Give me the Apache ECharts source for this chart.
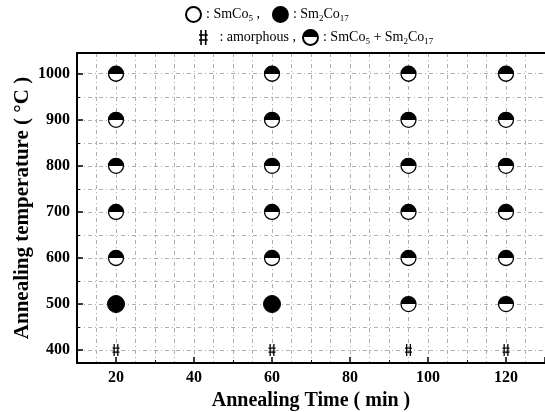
<!DOCTYPE html>
<html><head><meta charset="utf-8">
<script src="https://cdn.jsdelivr.net/npm/echarts@6/dist/echarts.min.js"></script>
<style>html,body{margin:0;padding:0;background:#fff}#c{width:545px;height:412px}</style>
</head><body><div id="c"></div>
<script>
// Data
const amorphousPts = [[20,400],[60,400],[95,400],[120,400]];
const sm2co17Pts = [[20,500],[60,500]];
const mixedPts = [
  [20,600],[20,700],[20,800],[20,900],[20,1000],
  [60,600],[60,700],[60,800],[60,900],[60,1000],
  [95,500],[95,600],[95,700],[95,800],[95,900],[95,1000],
  [120,500],[120,600],[120,700],[120,800],[120,900],[120,1000]
];
const smco5Pts = [];
const xTicks = [20,40,60,80,100,120];
const yTicks = [400,500,600,700,800,900,1000];

const serif = 'Liberation Serif, Times New Roman, serif';
const amorphPath = 'path://M1,0h1.3v12h-1.3z M4.7,0h1.3v12h-1.3z M0,3.4h7v1.2h-7z M0,7.4h7v1.2h-7z';
const halfFill = {type:'linear', x:0, y:0, x2:0, y2:1, colorStops:[
  {offset:0,color:'#000'},{offset:0.5,color:'#000'},{offset:0.5,color:'#fff'},{offset:1,color:'#fff'}]};
const grid = {type:[4,3,1,3], color:'#9a9a9a', width:0.8};
const legText = {fontFamily: serif, fontSize: 14, color:'#000',
  rich:{s:{fontFamily: serif, fontSize: 9, color:'#000', padding:[9,0,0,0]}}};

const chart = echarts.init(document.getElementById('c'));
chart.setOption({
  animation:false,
  backgroundColor:'#fff',
  grid:{left:77, right:0, top:53, bottom:49, outerBoundsMode:'none', containLabel:false},
  legend:[
    {left:185, top:6, padding:0, itemWidth:15, itemHeight:15, itemGap:12, data:['SmCo5','Sm2Co17'],
     formatter: n => n==='SmCo5' ? ': SmCo{s|5} ,' : ': Sm{s|2}Co{s|17}',
     textStyle: legText},
    {left:199, top:29, padding:0, itemWidth:15, itemHeight:15, itemGap:6, data:['amorphous','mixed'],
     formatter: n => n==='amorphous' ? ' : amorphous ,' : ': SmCo{s|5} + Sm{s|2}Co{s|17}',
     textStyle: legText}
  ],
  xAxis:[
    {type:'value', min:10, max:130, splitNumber:6, position:'bottom',
     name:'Annealing Time ( min )', nameLocation:'middle', nameGap:26,
     nameTextStyle:{fontFamily:serif, fontWeight:'bold', fontSize:20, color:'#000'},
     axisLine:{lineStyle:{color:'#000', width:2}},
     axisTick:{inside:true, length:6, lineStyle:{color:'#000', width:1.5}},
     minorTick:{show:true, splitNumber:2, length:3, lineStyle:{color:'#000', width:1}},
     axisLabel:{fontFamily:serif, fontWeight:'bold', fontSize:16, color:'#000', margin:7,
       formatter: v => xTicks.includes(v) ? String(v) : ''},
     splitLine:{show:false}},
    {type:'value', min:10, max:130, splitNumber:24, position:'top',
     axisLine:{show:true, lineStyle:{color:'#000', width:2}},
     axisTick:{show:false}, axisLabel:{show:false},
     splitLine:{show:true, lineStyle:grid}}
  ],
  yAxis:[
    {type:'value', min:372, max:1045, splitNumber:7, position:'left',
     name:'Annealing temperature ( °C )', nameLocation:'middle', nameGap:44, nameMoveOverlap:false,
     nameTextStyle:{fontFamily:serif, fontWeight:'bold', fontSize:21, color:'#000'},
     axisLine:{lineStyle:{color:'#000', width:2}},
     axisTick:{inside:true, length:6, lineStyle:{color:'#000', width:1.5}},
     minorTick:{show:true, splitNumber:2, length:3, lineStyle:{color:'#000', width:1}},
     axisLabel:{fontFamily:serif, fontWeight:'bold', fontSize:16, color:'#000', margin:7,
       formatter: v => yTicks.includes(v) ? String(v) : ''},
     splitLine:{show:false}},
    {type:'value', min:372, max:1045, splitNumber:14, position:'right',
     axisLine:{show:false}, axisTick:{show:false}, axisLabel:{show:false},
     splitLine:{show:true, lineStyle:grid}}
  ],
  series:[
    {name:'SmCo5', type:'scatter', data:smco5Pts, symbol:'circle', symbolSize:15,
     itemStyle:{color:'#fff', borderColor:'#000', borderWidth:1.3, opacity:1}},
    {name:'Sm2Co17', type:'scatter', data:sm2co17Pts, symbol:'circle', symbolSize:17,
     itemStyle:{color:'#000', borderColor:'#000', borderWidth:1, opacity:1}},
    {name:'amorphous', type:'scatter', data:amorphousPts, symbol:amorphPath, symbolSize:[7,12],
     itemStyle:{color:'#000', opacity:1}},
    {name:'mixed', type:'scatter', data:mixedPts, symbol:'circle', symbolSize:15,
     itemStyle:{color:halfFill, borderColor:'#000', borderWidth:1.3, opacity:1}}
  ]
});
</script></body></html>
